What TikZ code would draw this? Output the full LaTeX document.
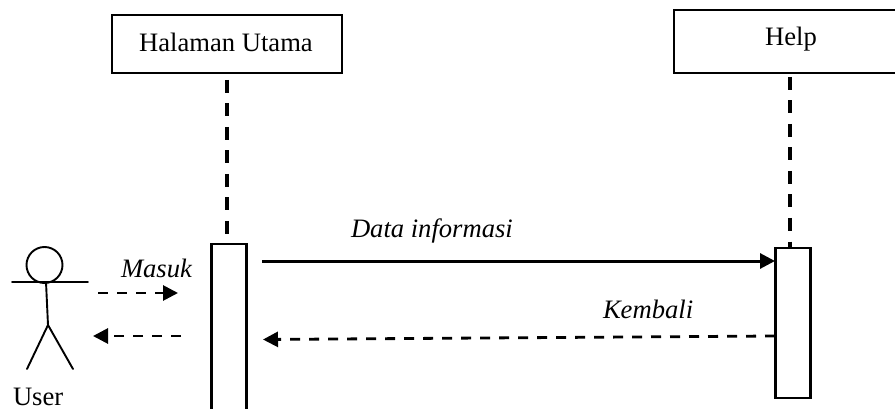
\documentclass[tikz,border=0pt]{standalone}
\usepackage{fontspec}
\setmainfont{Liberation Serif}
\usetikzlibrary{arrows.meta}
\tikzset{
  x=1pt,y=-1pt,
  lbl/.style={inner sep=0pt,outer sep=0pt,font=\fontsize{26.6}{30}\selectfont},
  mlbl/.style={lbl,font=\fontsize{26.6}{30}\selectfont\itshape},
  headbox/.style={draw=black,line width=2.2pt,fill=white,inner sep=0pt,outer sep=0pt},
  bar/.style={draw=black,line width=2.2pt,fill=white,inner sep=0pt,outer sep=0pt,minimum width=35pt},
  lifeline/.style={line width=3.4pt,dash pattern=on 13pt off 10.5pt},
  tipped/.style={-{Triangle[length=15pt,width=15pt]}},
  solidmsg/.style={tipped,line width=3pt},
  dashmsg/.style={tipped,line width=2.8pt,dash pattern=on 10pt off 9pt},
  stick/.style={line width=1.9pt,line cap=round}
}
\begin{document}
\begin{tikzpicture}
\useasboundingbox (0,0) rectangle (895,409);
\clip (0,0) rectangle (895,409);
\fill[white] (0,0) rectangle (895,409);
\node[headbox,minimum width=230pt,minimum height=58pt] (hu) at (227,44) {};
\node[lbl,anchor=base] (hut) at (226,52) {Halaman Utama};
\node[headbox,minimum width=234pt,minimum height=63pt] (he) at (791,41.5) {};
\node[lbl,anchor=base] (het) at (791,46) {Help};
\coordinate (hus) at (227,80);
\coordinate (hes) at (790,77);
\coordinate (bu) at (227,244);
\coordinate (be) at (790,248);
\draw[lifeline] (hus) -- (bu);
\draw[lifeline] (hes) -- (be);
\node[bar,minimum height=185pt] (b1) at (229,336.5) {};
\node[bar,minimum height=150pt] (b2) at (793,323) {};
\node[draw=black,line width=1.9pt,circle,minimum size=36pt,inner sep=0pt,outer sep=0pt] (head) at (44.5,265) {};
\coordinate (al) at (12,282);
\coordinate (ar) at (88,282);
\coordinate (neck) at (46,282);
\coordinate (hip) at (48,325);
\coordinate (fl) at (27,369);
\coordinate (fr) at (73,369);
\draw[stick] (al) -- (ar);
\draw[stick] (neck) -- (hip);
\draw[stick] (fl) -- (hip) -- (fr);
\node[lbl,anchor=base west] (user) at (13,405) {User};
\coordinate (m1a) at (98,293);
\coordinate (m1b) at (178,293);
\coordinate (m2a) at (181,336);
\coordinate (m2b) at (93,336);
\coordinate (m3a) at (262,261);
\coordinate (m3b) at (775,261);
\coordinate (m4a) at (775,336);
\coordinate (m4b) at (263,339.5);
\draw[dashmsg] (m1a) -- (m1b);
\draw[dashmsg] (m2a) -- (m2b);
\draw[solidmsg] (m3a) -- (m3b);
\draw[dashmsg] (m4a) -- (m4b);
\node[mlbl,anchor=base west] (masuk) at (121,277) {Masuk};
\node[mlbl,anchor=base west] (data) at (351,237) {Data informasi};
\node[mlbl,anchor=base west] (kemb) at (603,318) {Kembali};
\end{tikzpicture}
\end{document}
